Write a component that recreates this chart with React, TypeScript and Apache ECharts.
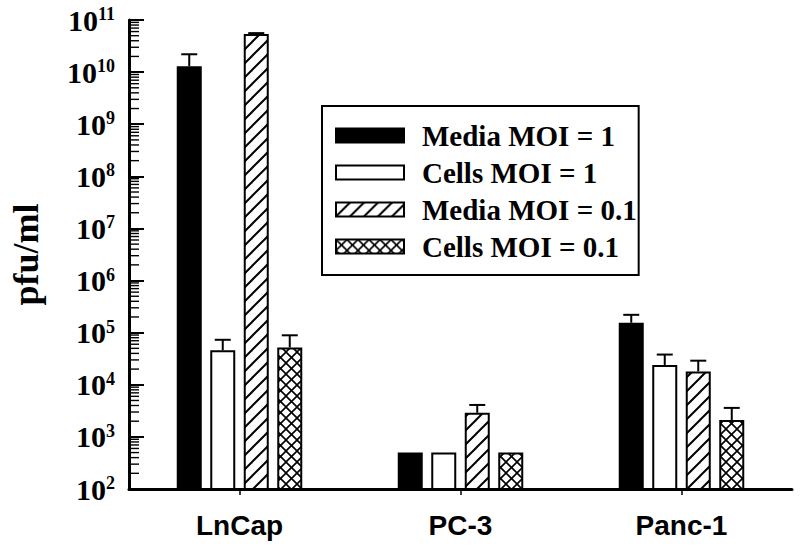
import React, { useEffect, useRef } from "react";
import * as echarts from "echarts";

const categories = ["LnCap", "PC-3", "Panc-1"];
const seriesNames = ["Media MOI = 1", "Cells MOI = 1", "Media MOI = 0.1", "Cells MOI = 0.1"];
const mediaMoi1 = [1.3e10, 500, 1.55e5];
const cellsMoi1 = [4.6e4, 500, 2.4e4];
const mediaMoi01 = [5.4e10, 2.9e3, 1.8e4];
const cellsMoi01 = [5.2e4, 500, 2.1e3];
// top of each error bar (null = no error bar)
const mediaMoi1Err = [2.2e10, null, 2.2e5];
const cellsMoi1Err = [7.3e4, null, 3.8e4];
const mediaMoi01Err = [5.6e10, 4.1e3, 2.9e4];
const cellsMoi01Err = [8.9e4, null, 3.6e3];
const yMin = 1e2;
const yMax = 1e11;
const majorExponents = [2, 3, 4, 5, 6, 7, 8, 9, 10];
const minorMultipliers = [2, 3, 4, 5, 6, 7, 8, 9];

function makePattern(kind: "hatch" | "cross") {
  const P = kind === "hatch" ? 14 : 11;
  const c = document.createElement("canvas");
  c.width = P;
  c.height = P;
  const ctx = c.getContext("2d")!;
  ctx.fillStyle = "#fff";
  ctx.fillRect(0, 0, P, P);
  ctx.strokeStyle = "#000";
  ctx.lineWidth = kind === "hatch" ? 2 : 1.6;
  ctx.lineCap = "square";
  const diag = (sign: number) => {
    for (let k = -1; k <= 1; k++) {
      ctx.beginPath();
      if (sign > 0) {
        ctx.moveTo(-1 + k * P, P + 1);
        ctx.lineTo(P + 1 + k * P, -1);
      } else {
        ctx.moveTo(-1 + k * P, -1);
        ctx.lineTo(P + 1 + k * P, P + 1);
      }
      ctx.stroke();
    }
  };
  diag(1);
  if (kind === "cross") diag(-1);
  return { image: c, repeat: "repeat", imageWidth: P, imageHeight: P } as any;
}

export default function App() {
  const ref = useRef<HTMLDivElement>(null);
  useEffect(() => {
    if (!ref.current) return;
    const chart = echarts.init(ref.current, undefined, { renderer: "svg" });
    const hatch = makePattern("hatch");
    const cross = makePattern("cross");
    const values = [mediaMoi1, cellsMoi1, mediaMoi01, cellsMoi01];
    const errs = [mediaMoi1Err, cellsMoi1Err, mediaMoi01Err, cellsMoi01Err];
    const fills: any[] = ["#000", "#fff", hatch, cross];
    const barWidth = 25;
    const gap = 8.5;
    const step = barWidth + gap;

    const barSeries = values.map((vals, i) => ({
      name: seriesNames[i],
      type: "bar",
      data: vals,
      barWidth,
      barGap: (gap / barWidth) * 100 + "%",
      itemStyle: { color: fills[i], borderColor: "#000", borderWidth: 2 },
      z: 2,
    }));

    const errSeries = errs.map((ev, i) => ({
      type: "custom",
      silent: true,
      z: 3,
      data: ev
        .map((e, c) => (e == null ? null : [c, values[i][c], e]))
        .filter((d) => d != null),
      renderItem: (params: any, api: any) => {
        const c = api.value(0);
        const p1 = api.coord([c, api.value(1)]);
        const p2 = api.coord([c, api.value(2)]);
        const x = p1[0] + (i - 1.5) * step;
        return {
          type: "group",
          children: [
            { type: "line", shape: { x1: x, y1: p1[1], x2: x, y2: p2[1] }, style: { stroke: "#000", lineWidth: 2 } },
            { type: "line", shape: { x1: x - 8, y1: p2[1], x2: x + 8, y2: p2[1] }, style: { stroke: "#000", lineWidth: 2 } },
          ],
        };
      },
    }));

    const minorData: number[][] = [];
    majorExponents.forEach((e) => minorMultipliers.forEach((m) => minorData.push([0, m * Math.pow(10, e)])));
    const minorSeries = {
      type: "custom",
      silent: true,
      z: 5,
      data: minorData,
      renderItem: (params: any, api: any) => {
        const y = api.coord([0, api.value(1)])[1];
        const x0 = params.coordSys.x;
        return { type: "line", shape: { x1: x0, y1: y, x2: x0 + 10, y2: y }, style: { stroke: "#000", lineWidth: 1.4 } };
      },
    };

    chart.setOption({
      animation: false,
      backgroundColor: "#fff",
      grid: { left: 121, right: 8, top: 20, bottom: 62, containLabel: false },
      legend: {
        orient: "vertical",
        left: 322,
        top: 106,
        data: seriesNames,
        icon: "rect",
        itemWidth: 68,
        itemHeight: 14,
        itemGap: 8,
        padding: [15, 2, 14, 13],
        borderColor: "#000",
        borderWidth: 2,
        selectedMode: false,
        textStyle: {
          fontFamily: "Liberation Serif",
          fontWeight: "bold",
          fontSize: 29,
          lineHeight: 29,
          color: "#000",
          padding: [0, 0, 0, 13],
        },
      },
      xAxis: {
        type: "category",
        data: categories,
        axisLine: { lineStyle: { color: "#000", width: 3 } },
        axisTick: { show: true, alignWithLabel: true, length: 6, lineStyle: { color: "#000", width: 1.5 } },
        axisLabel: {
          margin: 22,
          color: "#000",
          fontFamily: "Liberation Sans",
          fontWeight: "bold",
          fontSize: 28,
        },
        splitLine: { show: false },
      },
      yAxis: {
        type: "log",
        logBase: 10,
        min: yMin,
        max: yMax,
        name: "pfu/ml",
        nameLocation: "middle",
        nameGap: 85,
        nameTextStyle: { fontFamily: "Liberation Serif", fontWeight: "bold", fontSize: 36, color: "#000" },
        axisLine: { show: true, lineStyle: { color: "#000", width: 3 } },
        axisTick: { show: true, inside: true, length: 15, lineStyle: { color: "#000", width: 2 } },
        splitLine: { show: false },
        axisLabel: {
          margin: 14,
          formatter: (v: number) => "{b|10}{s|" + Math.round(Math.log10(v)) + "}",
          rich: {
            b: { fontFamily: "Liberation Serif", fontWeight: "bold", fontSize: 30, lineHeight: 30, color: "#000" },
            s: { fontFamily: "Liberation Serif", fontWeight: "bold", fontSize: 18, lineHeight: 18, color: "#000", verticalAlign: "top" },
          },
        },
      },
      series: [...barSeries, ...errSeries, minorSeries],
    });
    return () => chart.dispose();
  }, []);
  return <div ref={ref} style={{ position: "fixed", left: 0, top: 0, width: 800, height: 551 }} />;
}
